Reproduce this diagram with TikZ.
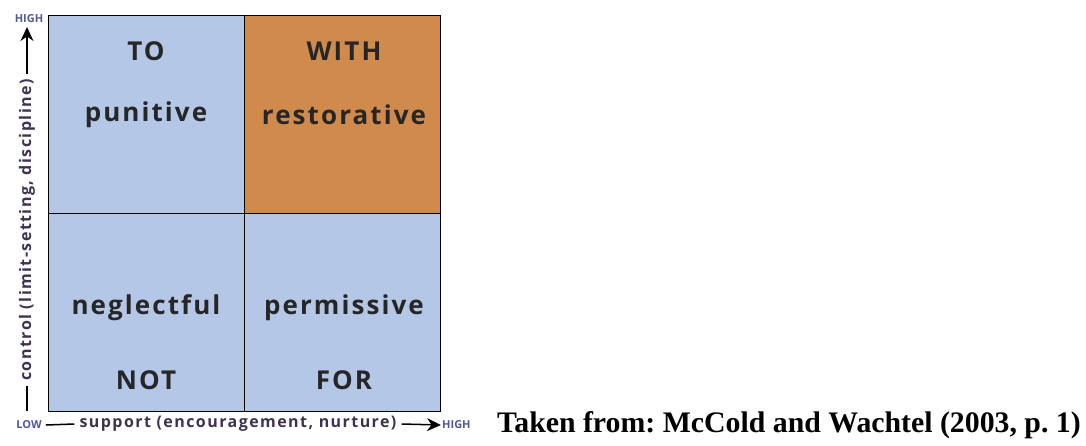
\documentclass[tikz,border=0pt]{standalone}
\usepackage{fontspec}
\setmainfont{Liberation Serif}
\newfontfamily\qfont[LetterSpace=8]{Open Sans}
\newfontfamily\afont[LetterSpace=9]{Open Sans}
\newfontfamily\efont{Open Sans}
\usetikzlibrary{arrows.meta}
\definecolor{cellblue}{RGB}{180,199,231}
\definecolor{cellorange}{RGB}{208,138,75}
\definecolor{axistext}{RGB}{62,50,80}
\definecolor{endtext}{RGB}{80,90,150}
\begin{document}
\begin{tikzpicture}[x=1pt,y=-1pt,
  cell/.style={draw=black,line width=1.2pt,minimum width=196pt,minimum height=198pt,inner sep=0pt,anchor=north west},
  qtext/.style={font=\qfont\bfseries\fontsize{26}{26}\selectfont,text=black!85,inner sep=0pt},
  axlabel/.style={font=\afont\bfseries\fontsize{16}{16}\selectfont,text=axistext,inner sep=0pt},
  endlabel/.style={font=\efont\bfseries\fontsize{11}{11}\selectfont,text=endtext,inner sep=0pt},
  axline/.style={line width=1.5pt,black},
  axarrow/.style={line width=1.5pt,black,-{Stealth[length=14pt,width=13pt]}}]
\useasboundingbox (0,0) rectangle (1086,445);
% cells
\node[cell,fill=cellblue] (tl) at (48,15) {};
\node[cell,fill=cellorange] (tr) at (244,15) {};
\node[cell,fill=cellblue] (bl) at (48,213) {};
\node[cell,fill=cellblue] (br) at (244,213) {};
% quadrant texts
\node[qtext] (to) at (146,51) {TO};
\node[qtext] (pun) at (146,115) {punitive};
\node[qtext] (with) at (344,51) {WITH};
\node[qtext] (res) at (344,115) {restorative};
\node[qtext] (neg) at (146,308) {neglectful};
\node[qtext] (not) at (146,380) {NOT};
\node[qtext] (per) at (344,308) {permissive};
\node[qtext] (for) at (344,380) {FOR};
% vertical axis
\node[endlabel] (vhigh) at (29,19) {HIGH};
\node[axlabel,rotate=90] (vlab) at (27,230) {control (limit-setting, discipline)};
\coordinate (vb) at (27,411);
\coordinate (vt) at (27,27);
\draw[axline] (vb) -- ([shift={(0,5)}]vlab.west);
\draw[axarrow] ([shift={(0,-5)}]vlab.east) -- (vt);
% horizontal axis
\node[endlabel] (hlow) at (29,425) {LOW};
\node[axlabel] (hlab) at (238,424) {support (encouragement, nurture)};
\node[endlabel,anchor=west] (hhigh) at (442,425) {HIGH};
\draw[axline] ([xshift=4pt]hlow.east) -- ([xshift=-5pt]hlab.west);
\draw[axarrow] ([xshift=5pt]hlab.east) -- ([xshift=-1pt]hhigh.west);
% caption
\node[font=\bfseries\fontsize{29.8}{30}\selectfont,anchor=west,inner sep=0pt] (cap) at (497,425) {\frenchspacing Taken from: McCold and Wachtel (2003, p.~1)};
\end{tikzpicture}
\end{document}
